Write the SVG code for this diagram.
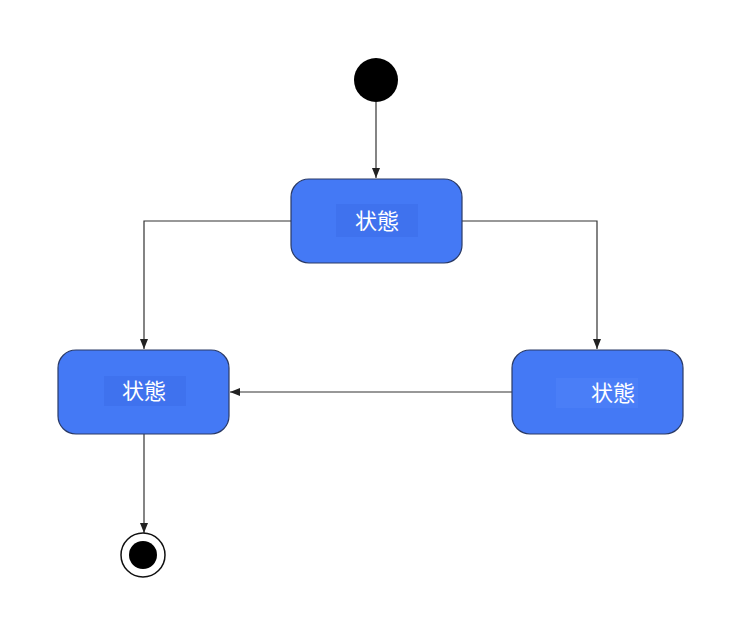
<svg xmlns="http://www.w3.org/2000/svg" width="742" height="637" viewBox="0 0 742 637">
<style>
.st{fill:#4479f5;stroke:#2a3a66;stroke-width:1.2}
.lb{fill:#fff;font-family:"Noto Sans CJK JP","Noto Sans CJK SC",sans-serif;font-size:22px;text-anchor:middle}
.c{fill:none;stroke:#333;stroke-width:1.2}
</style>
<defs><marker id="a" viewBox="0 0 10 10" refX="10" refY="5" markerWidth="10" markerHeight="10" markerUnits="userSpaceOnUse" orient="auto"><path d="M0,1 L10,5 L0,9 z" fill="#222"/></marker></defs>
<rect width="742" height="637" fill="#fff"/>
<g id="connectors">
<path class="c" d="M376,102 V178" marker-end="url(#a)"/>
<path class="c" d="M291,221 H144 V349" marker-end="url(#a)"/>
<path class="c" d="M462,221 H597 V349" marker-end="url(#a)"/>
<path class="c" d="M512,392 H230" marker-end="url(#a)"/>
<path class="c" d="M144,434 V533" marker-end="url(#a)"/>
</g>
<g id="start"><circle cx="376" cy="80" r="22" fill="#000"/></g>
<g id="s1"><rect class="st" x="291" y="179" width="171" height="84" rx="18"/><rect x="336" y="204" width="82" height="33" fill="#3f72ee"/><text class="lb" x="377" y="229">状態</text></g>
<g id="s2"><rect class="st" x="58" y="350" width="171" height="84" rx="18"/><rect x="104" y="376" width="82" height="30" fill="#3f72ee"/><text class="lb" x="144" y="399">状態</text></g>
<g id="s3"><rect class="st" x="512" y="350" width="171" height="84" rx="18"/><rect x="556" y="378" width="82" height="30" fill="#4a7ef7"/><text class="lb" x="613" y="401">状態</text></g>
<g id="end"><circle cx="143" cy="555" r="22" fill="#fff" stroke="#111" stroke-width="1.5"/><circle cx="143" cy="555" r="14" fill="#000"/></g>
</svg>
